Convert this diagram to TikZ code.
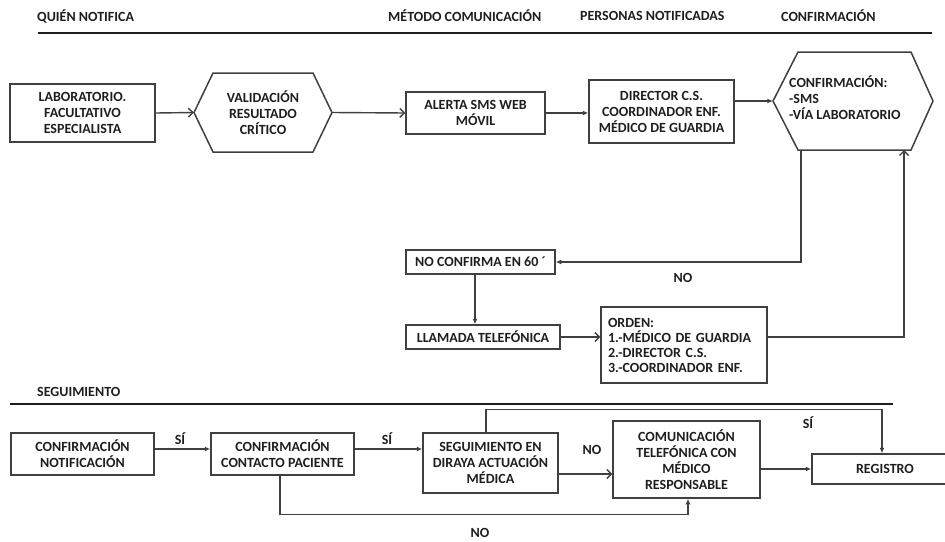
\documentclass[tikz,border=0pt]{standalone}
\usepackage{fontspec}
\setmainfont{Carlito}
\usetikzlibrary{arrows.meta,calc}
\definecolor{ink}{HTML}{1E1E1E}
\tikzset{
  txt/.style={font=\bfseries\fontsize{14}{16}\selectfont, text=ink, inner sep=0pt},
  box/.style={txt, draw=ink!85, line width=1.5pt, align=center},
  sep/.style={draw=ink, line width=2.8pt},
  conn/.style={draw=ink!85, line width=1.4pt},
  arrO/.style={conn, -{Straight Barb[length=4.5pt,width=9pt,line width=1.4pt]}},
  arrF/.style={conn, -{Latex[length=5.5pt,width=5pt]}},
}
\begin{document}
\begin{tikzpicture}[x=1pt,y=-1pt]
\useasboundingbox (0,0) rectangle (945,541);
% headers
\node[txt,anchor=west] (h1) at (37,16) {QUIÉN NOTIFICA};
\node[txt,anchor=west] (h2) at (388,16) {MÉTODO COMUNICACIÓN};
\node[txt,anchor=west] (h3) at (580,16) {PERSONAS NOTIFICADAS};
\node[txt,anchor=west] (h4) at (781,16) {CONFIRMACIÓN};
\coordinate (t1) at (38,33);
\coordinate (t2) at (932,33);
\draw[sep] (t1) -- (t2);
% top row
\node[box,minimum width=145pt,minimum height=58pt] (lab) at (82.5,113) {LABORATORIO.\\FACULTATIVO\\ESPECIALISTA};
\node[txt,align=center,minimum width=138pt,minimum height=79pt] (val) at (263,112.5) {VALIDACIÓN\\RESULTADO\\CRÍTICO};
\draw[conn,line width=1.5pt] (194,112.5) -- (213,73) -- (313,73) -- (332,112.5) -- (313,152) -- (213,152) -- cycle;
\node[box,minimum width=139pt,minimum height=42pt] (alerta) at (475.5,113) {ALERTA SMS WEB\\MÓVIL};
\node[box,minimum width=145pt,minimum height=63pt] (dir) at (661.5,111.5) {DIRECTOR C.S.\\COORDINADOR ENF.\\MÉDICO DE GUARDIA};
\node[minimum width=160pt,minimum height=98pt,inner sep=0pt] (conf) at (853,101) {};
\draw[conn,line width=1.5pt] (773,101) -- (798,52) -- (911,52) -- (933,101) -- (911,150) -- (798,150) -- cycle;
\node[txt,align=left,anchor=north west] (conftxt) at (789,76) {CONFIRMACIÓN:\\-SMS\\-VÍA LABORATORIO};
\coordinate (confbl) at (801,150);
\coordinate (confbr) at (904,150);
\draw[arrO] (lab.east) -- (val.west);
\draw[arrO] (val.east) -- (alerta.west);
\draw[arrF] (alerta.east) -- (dir.west |- alerta.east);
\draw[arrF] (dir.east |- conf.west) -- (conf.west);
% middle
\node[box,minimum width=149pt,minimum height=24pt] (noconf) at (480.5,262) {NO CONFIRMA EN 60 ´};
\node[box,minimum width=154pt,minimum height=24pt] (llam) at (483,337) {LLAMADA TELEFÓNICA};
\node[box,minimum width=166pt,minimum height=76pt,align=left,text width=152pt,inner xsep=7pt,font=\bfseries\fontsize{14}{15}\selectfont] (orden) at (684,345) {ORDEN:\\1.-MÉDICO DE GUARDIA\\2.-DIRECTOR C.S.\\3.-COORDINADOR ENF.};
\draw[arrF] (confbl) |- (noconf.east);
\node[txt] (lno) at (683,278) {NO};
\coordinate (nc1) at ([xshift=-5.5pt]noconf.south);
\draw[arrF] (nc1) -- (nc1 |- llam.north);
\draw[arrO] (llam.east) -- (orden.west |- llam.east);
\draw[arrO] (orden.east |- llam.east) -| (confbr);
% seguimiento
\node[txt,anchor=west] (seg) at (37,392) {SEGUIMIENTO};
\coordinate (s1) at (10,404);
\coordinate (s2) at (893,404);
\draw[sep] (s1) -- (s2);
\node[box,minimum width=143pt,minimum height=42pt] (cnot) at (82.5,454) {CONFIRMACIÓN\\NOTIFICACIÓN};
\node[box,minimum width=143pt,minimum height=42pt] (cont) at (282.5,454) {CONFIRMACIÓN\\CONTACTO PACIENTE};
\node[box,minimum width=135pt,minimum height=60pt] (dira) at (490.5,463) {SEGUIMIENTO EN\\DIRAYA ACTUACIÓN\\MÉDICA};
\node[box,minimum width=147pt,minimum height=77pt] (com) at (686.5,459.5) {COMUNICACIÓN\\TELEFÓNICA CON\\MÉDICO\\RESPONSABLE};
\node[box,minimum width=146pt,minimum height=30pt] (reg) at (885,469) {REGISTRO};
\coordinate (a1) at ([yshift=5pt]cnot.east);
\draw[arrF] (a1) -- (a1 -| cont.west);
\node[txt] (si1) at (180,439) {SÍ};
\coordinate (a2) at ([yshift=5pt]cont.east);
\draw[arrF] (a2) -- (a2 -| dira.west);
\node[txt] (si2) at (387,439) {SÍ};
\coordinate (a3) at ([yshift=-11pt]dira.east);
\draw[arrO] (a3) -- (a3 -| com.west);
\node[txt] (no2) at (592,450) {NO};
\draw[arrF] (com.east |- reg.west) -- (reg.west);
\draw[arrF] ([xshift=-4.5pt]dira.north) -- ++(0,-23) -| ([xshift=-3pt]reg.north);
\node[txt] (si3) at (808,423) {SÍ};
\draw[arrF] ([xshift=-2.5pt]cont.south) -- ++(0,39) -| ([xshift=1.5pt]com.south);
\node[txt] (no3) at (480,533) {NO};
\end{tikzpicture}
\end{document}
